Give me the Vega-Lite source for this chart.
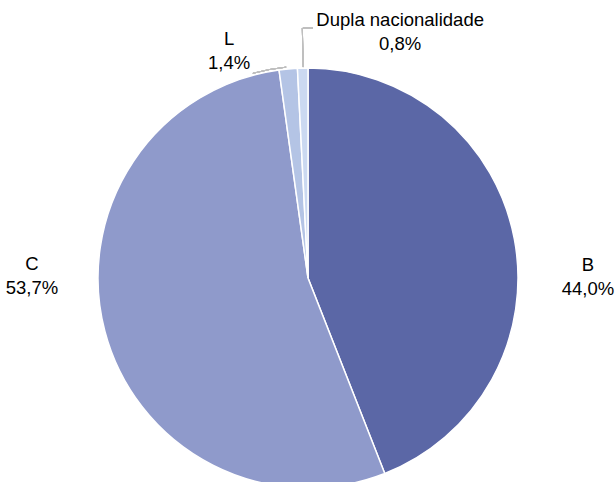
{
  "$schema": "https://vega.github.io/schema/vega-lite/v6.json",
  "width": 616,
  "height": 556,
  "autosize": {"type": "none"},
  "padding": 0,
  "background": "white",
  "config": {"view": {"stroke": null}},
  "data": {
    "values": [
      {"category": "B", "value": 44.0, "pct": "44,0%", "order": 1},
      {"category": "C", "value": 53.7, "pct": "53,7%", "order": 2},
      {"category": "L", "value": 1.4, "pct": "1,4%", "order": 3},
      {"category": "Dupla nacionalidade", "value": 0.8, "pct": "0,8%", "order": 4}
    ]
  },
  "layer": [
    {
      "mark": {"type": "arc", "outerRadius": 210, "stroke": "white", "strokeWidth": 1.5},
      "encoding": {
        "theta": {"field": "value", "type": "quantitative", "stack": true},
        "order": {"field": "order", "type": "quantitative"},
        "color": {
          "field": "category",
          "type": "nominal",
          "scale": {
            "domain": ["B", "C", "L", "Dupla nacionalidade"],
            "range": ["#5B67A6", "#8F9ACB", "#B4C4E5", "#CBD9F1"]
          },
          "legend": null
        }
      }
    },
    {
      "mark": {"type": "arc", "fill": null, "stroke": "#BFBFBF", "strokeWidth": 1},
      "encoding": {
        "theta": {"value": -0.0227},
        "theta2": {"value": -0.0227},
        "radius": {"value": 250},
        "radius2": {"value": 211}
      }
    },
    {
      "mark": {"type": "arc", "fill": null, "stroke": "#BFBFBF", "strokeWidth": 1},
      "encoding": {
        "theta": {"value": -0.0205},
        "theta2": {"value": 0.0195},
        "radius": {"value": 250},
        "radius2": {"value": 250}
      }
    },
    {
      "mark": {"type": "arc", "fill": null, "stroke": "#BFBFBF", "strokeWidth": 1},
      "encoding": {
        "theta": {"value": 6.02},
        "theta2": {"value": 6.18},
        "radius": {"value": 212},
        "radius2": {"value": 212}
      }
    },
    {
      "transform": [
        {"filter": "datum.category === 'B'"},
        {"calculate": "datum.category + '\\n' + datum.pct", "as": "label"}
      ],
      "mark": {"type": "text", "font": "Liberation Sans", "fontSize": 18.5, "lineBreak": "\n", "lineHeight": 24, "align": "center", "baseline": "middle", "dy": -12, "fill": "#000000"},
      "encoding": {
        "theta": {"value": 1.567},
        "radius": {"value": 280},
        "text": {"field": "label"}
      }
    },
    {
      "transform": [
        {"filter": "datum.category === 'C'"},
        {"calculate": "datum.category + '\\n' + datum.pct", "as": "label"}
      ],
      "mark": {"type": "text", "font": "Liberation Sans", "fontSize": 18.5, "lineBreak": "\n", "lineHeight": 24, "align": "center", "baseline": "middle", "dy": -12, "fill": "#000000"},
      "encoding": {
        "theta": {"value": 4.719},
        "radius": {"value": 276},
        "text": {"field": "label"}
      }
    },
    {
      "transform": [
        {"filter": "datum.category === 'L'"},
        {"calculate": "datum.category + '\\n' + datum.pct", "as": "label"}
      ],
      "mark": {"type": "text", "font": "Liberation Sans", "fontSize": 18.5, "lineBreak": "\n", "lineHeight": 24, "align": "center", "baseline": "middle", "dy": -12, "fill": "#000000"},
      "encoding": {
        "theta": {"value": 5.948},
        "radius": {"value": 240},
        "text": {"field": "label"}
      }
    },
    {
      "transform": [
        {"filter": "datum.category === 'Dupla nacionalidade'"},
        {"calculate": "datum.category + '\\n' + datum.pct", "as": "label"}
      ],
      "mark": {"type": "text", "font": "Liberation Sans", "fontSize": 18.5, "lineBreak": "\n", "lineHeight": 24, "align": "center", "baseline": "middle", "dy": -12, "fill": "#000000"},
      "encoding": {
        "theta": {"value": 0.358},
        "radius": {"value": 263},
        "text": {"field": "label"}
      }
    }
  ]
}
